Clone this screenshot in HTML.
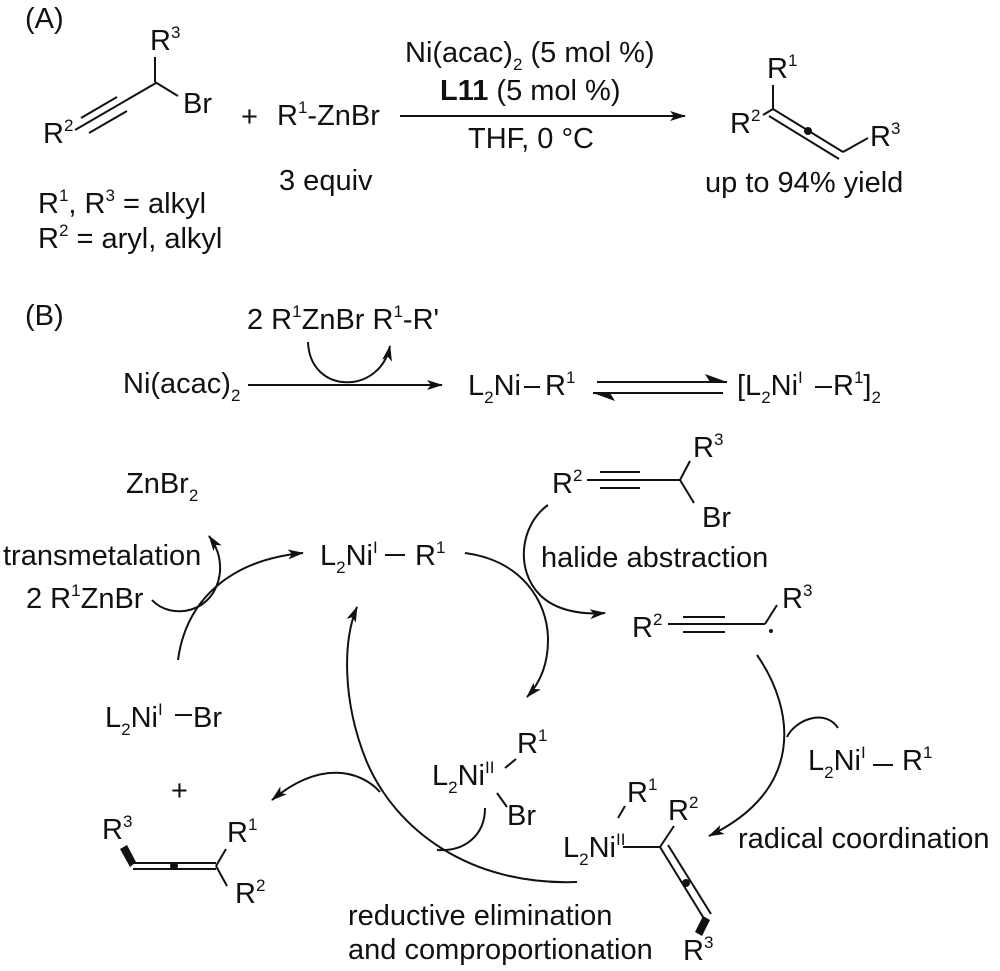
<!DOCTYPE html>
<html><head><meta charset="utf-8"><style>
html,body{margin:0;padding:0;background:#fff}
svg{display:block}
text{font-family:"Liberation Sans",Arial,sans-serif;font-size:29px;fill:#111}
.s{font-size:17px}
</style></head><body>
<svg width="1000" height="971" viewBox="0 0 1000 971" xmlns="http://www.w3.org/2000/svg">
<defs>
<marker id="ah" viewBox="0 0 16 10" refX="15" refY="5" markerWidth="16" markerHeight="10" markerUnits="userSpaceOnUse" orient="auto">
<path d="M0,0 L16,5 L0,10 L4,5 z" fill="#111"/>
</marker>
</defs>
<g stroke="#111" stroke-width="2" fill="none">
<line x1="155" y1="57" x2="155" y2="82"/>
<line x1="155" y1="82" x2="178" y2="96"/>
<line x1="75" y1="130" x2="156" y2="83"/>
<line x1="81" y1="118" x2="117" y2="97"/>
<line x1="89" y1="133" x2="127" y2="111"/>
<line x1="400" y1="116" x2="685" y2="116" marker-end="url(#ah)"/>
<line x1="773" y1="85" x2="773" y2="109"/>
<line x1="763" y1="115" x2="773" y2="109"/>
<line x1="773" y1="109" x2="843" y2="152"/>
<line x1="769" y1="116" x2="839" y2="159"/>
<line x1="843" y1="152" x2="868" y2="138"/>
<line x1="248" y1="385" x2="442" y2="385" marker-end="url(#ah)"/>
<path d="M308,342 C310,395 380,395 390,346" marker-end="url(#ah)"/>
<line x1="524" y1="387" x2="540" y2="387"/>
<line x1="597" y1="382" x2="727" y2="382"/>
<line x1="593" y1="393" x2="723" y2="393"/>
<line x1="815" y1="387" x2="832" y2="387"/>
<line x1="385" y1="555" x2="405" y2="555"/>
<line x1="175" y1="715" x2="192" y2="715"/>
<line x1="873" y1="765" x2="893" y2="765"/>
<line x1="587" y1="480" x2="680" y2="480"/>
<line x1="600" y1="472" x2="640" y2="472"/>
<line x1="600" y1="488" x2="640" y2="488"/>
<line x1="680" y1="480" x2="690" y2="461"/>
<line x1="680" y1="480" x2="694" y2="503"/>
<line x1="668" y1="624" x2="765" y2="624"/>
<line x1="683" y1="617" x2="725" y2="617"/>
<line x1="683" y1="632" x2="725" y2="632"/>
<line x1="765" y1="624" x2="777" y2="605"/>
<line x1="505" y1="768" x2="516" y2="759"/>
<line x1="497" y1="793" x2="507" y2="807"/>
<line x1="618" y1="818" x2="625" y2="806"/>
<line x1="623" y1="847" x2="660" y2="847"/>
<line x1="660" y1="847" x2="674" y2="826"/>
<line x1="660" y1="847" x2="703" y2="917"/>
<line x1="668" y1="845" x2="711" y2="914"/>
<line x1="133" y1="863" x2="216" y2="863"/>
<line x1="133" y1="869" x2="216" y2="869"/>
<line x1="216" y1="866" x2="226" y2="849"/>
<line x1="216" y1="866" x2="227" y2="886"/>
<path d="M178,660 C186,600 230,560 303,553" marker-end="url(#ah)"/>
<path d="M152,600 C170,620 215,615 220,572 C221,556 216,546 209,536" marker-end="url(#ah)"/>
<path d="M465,553 C520,560 548,600 548,640 C548,665 540,683 527,697" marker-end="url(#ah)"/>
<path d="M548,505 C520,525 515,570 540,595 C555,610 580,615 605,613" marker-end="url(#ah)"/>
<path d="M757,655 C795,710 805,790 709,836" marker-end="url(#ah)"/>
<path d="M787,737 C795,720 825,708 838,728"/>
<path d="M577,882 C470,886 395,830 366,760 C342,700 343,640 357,607" marker-end="url(#ah)"/>
<path d="M380,792 C360,770 320,760 272,800" marker-end="url(#ah)"/>
<path d="M485,808 C485,835 465,852 437,850"/>
</g>
<polygon points="120,849 127,845 136,862 130,867" fill="#111"/>
<polygon points="703,916 710,920 702,936 695,932" fill="#111"/>
<circle cx="808" cy="131" r="4" fill="#111"/>
<circle cx="174" cy="866" r="4" fill="#111"/>
<circle cx="686" cy="883" r="4" fill="#111"/>
<circle cx="771" cy="631" r="2" fill="#111"/>
<polygon points="727,382 705,374 710,382" fill="#111"/>
<polygon points="593,393 615,401 610,393" fill="#111"/>

<text x="25" y="28">(A)</text>
<text x="150" y="50">R<tspan class="s" dy="-12">3</tspan></text>
<text x="183" y="113">Br</text>
<text x="43" y="143">R<tspan class="s" dy="-12">2</tspan></text>
<text x="241" y="126">+</text>
<text x="277" y="125">R<tspan class="s" dy="-12">1</tspan><tspan dy="12">-ZnBr</tspan></text>
<text x="405" y="62">Ni(acac)<tspan class="s" dy="8">2</tspan><tspan dy="-8"> (5 mol %)</tspan></text>
<text x="440" y="100"><tspan font-weight="bold">L11</tspan> (5 mol %)</text>
<text x="468" y="148">THF, 0 °C</text>
<text x="279" y="190">3 equiv</text>
<text x="38" y="213">R<tspan class="s" dy="-12">1</tspan><tspan dy="12">, R</tspan><tspan class="s" dy="-12">3</tspan><tspan dy="12"> = alkyl</tspan></text>
<text x="38" y="248">R<tspan class="s" dy="-12">2</tspan><tspan dy="12"> = aryl, alkyl</tspan></text>
<text x="767" y="78">R<tspan class="s" dy="-12">1</tspan></text>
<text x="730" y="133">R<tspan class="s" dy="-12">2</tspan></text>
<text x="870" y="146">R<tspan class="s" dy="-12">3</tspan></text>
<text x="705" y="192">up to 94% yield</text>

<text x="25" y="325">(B)</text>
<text x="247" y="329">2 R<tspan class="s" dy="-12">1</tspan><tspan dy="12">ZnBr R</tspan><tspan class="s" dy="-12">1</tspan><tspan dy="12">-R'</tspan></text>
<text x="123" y="393">Ni(acac)<tspan class="s" dy="8">2</tspan></text>
<text x="468" y="395">L<tspan class="s" dy="8">2</tspan><tspan dy="-8">Ni</tspan></text>
<text x="545" y="395">R<tspan class="s" dy="-12">1</tspan></text>
<text x="737" y="395">[L<tspan class="s" dy="8">2</tspan><tspan dy="-8">Ni</tspan><tspan class="s" dy="-12">I</tspan></text>
<text x="833" y="395">R<tspan class="s" dy="-12">1</tspan><tspan dy="12">]</tspan><tspan class="s" dy="8">2</tspan></text>

<text x="126" y="493">ZnBr<tspan class="s" dy="8">2</tspan></text>
<text x="3" y="565">transmetalation</text>
<text x="26" y="608">2 R<tspan class="s" dy="-12">1</tspan><tspan dy="12">ZnBr</tspan></text>
<text x="320" y="565">L<tspan class="s" dy="8">2</tspan><tspan dy="-8">Ni</tspan><tspan class="s" dy="-12">I</tspan></text>
<text x="415" y="565">R<tspan class="s" dy="-12">1</tspan></text>

<text x="552" y="493">R<tspan class="s" dy="-12">2</tspan></text>
<text x="693" y="457">R<tspan class="s" dy="-12">3</tspan></text>
<text x="702" y="527">Br</text>
<text x="541" y="567">halide abstraction</text>
<text x="632" y="637">R<tspan class="s" dy="-12">2</tspan></text>
<text x="782" y="608">R<tspan class="s" dy="-12">3</tspan></text>

<text x="105" y="727">L<tspan class="s" dy="8">2</tspan><tspan dy="-8">Ni</tspan><tspan class="s" dy="-12">I</tspan></text>
<text x="193" y="727">Br</text>
<text x="171" y="800">+</text>

<text x="432" y="785">L<tspan class="s" dy="8">2</tspan><tspan dy="-8">Ni</tspan><tspan class="s" dy="-12">II</tspan></text>
<text x="517" y="753">R<tspan class="s" dy="-12">1</tspan></text>
<text x="507" y="825">Br</text>

<text x="808" y="770">L<tspan class="s" dy="8">2</tspan><tspan dy="-8">Ni</tspan><tspan class="s" dy="-12">I</tspan></text>
<text x="902" y="770">R<tspan class="s" dy="-12">1</tspan></text>
<text x="738" y="848">radical coordination</text>

<text x="563" y="857">L<tspan class="s" dy="8">2</tspan><tspan dy="-8">Ni</tspan><tspan class="s" dy="-12">II</tspan></text>
<text x="627" y="802">R<tspan class="s" dy="-12">1</tspan></text>
<text x="668" y="820">R<tspan class="s" dy="-12">2</tspan></text>
<text x="683" y="960">R<tspan class="s" dy="-12">3</tspan></text>

<text x="102" y="839">R<tspan class="s" dy="-12">3</tspan></text>
<text x="227" y="842">R<tspan class="s" dy="-12">1</tspan></text>
<text x="235" y="903">R<tspan class="s" dy="-12">2</tspan></text>

<text x="348" y="925">reductive elimination</text>
<text x="348" y="959">and comproportionation</text>
</svg>
</body></html>
